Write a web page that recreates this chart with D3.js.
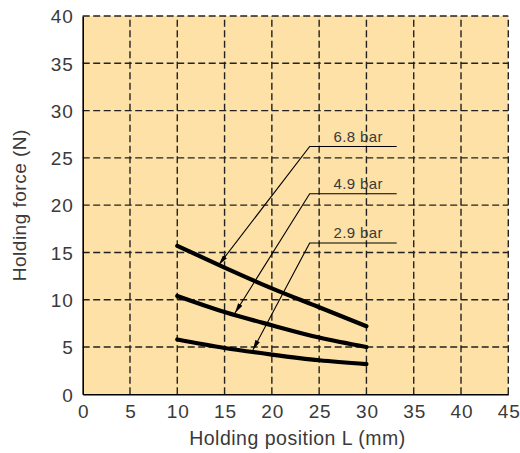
<!DOCTYPE html>
<html><head><meta charset="utf-8">
<script src="https://cdn.jsdelivr.net/npm/d3@7"></script>
<style>
html,body{margin:0;padding:0;background:#fff;}
svg text{font-family:"Liberation Sans",Arial,sans-serif;fill:#3a3a3a;}
</style></head>
<body><svg id="c" width="520" height="453"></svg>
<script>
const xTicks = [0,5,10,15,20,25,30,35,40,45];
const yTicks = [0,5,10,15,20,25,30,35,40];
const positions = [10,15,20,25,30];
const seriesNames = ["6.8 bar","4.9 bar","2.9 bar"];
const force68 = [15.7,13.4,11.2,9.2,7.2];
const force49 = [10.4,8.7,7.3,6.0,5.0];
const force29 = [5.8,4.9,4.2,3.6,3.2];
const leaderCornerX = [24.0,24.0,24.0];
const leaderEndX = [33.2,33.2,33.2];
const leaderY = [26.2,21.2,16.0];
const arrowTipX = [14.4,16.1,18.0];
const arrowTipY = [13.7,8.6,4.7];

const svg = d3.select("#c");
const W = 520, H = 453;
const m = {l:82.7, r:W-508.3, t:16, b:H-394.3};
const x = d3.scaleLinear().domain([0,45]).range([m.l, W-m.r]);
const y = d3.scaleLinear().domain([0,40]).range([H-m.b, m.t]);

svg.append("defs").append("marker")
  .attr("id","ah").attr("viewBox","0 0 10 5").attr("refX",10).attr("refY",2.5)
  .attr("markerWidth",10).attr("markerHeight",5).attr("markerUnits","userSpaceOnUse")
  .attr("orient","auto")
  .append("path").attr("d","M0,0 L10,2.5 L0,5 Z").attr("fill","#000");

svg.append("rect").attr("x",x(0)).attr("y",y(40)).attr("width",x(45)-x(0)).attr("height",y(0)-y(40)).attr("fill","#FDE1A6");

const g = svg.append("g");
g.selectAll(".vg").data(xTicks.filter(d=>d>0)).enter().append("line")
  .attr("x1",d=>x(d)).attr("x2",d=>x(d)).attr("y1",y(0)).attr("y2",y(40))
  .attr("stroke","#222").attr("stroke-width",1.4).attr("stroke-dasharray","7,3.5");
g.selectAll(".hg").data(yTicks.filter(d=>d>0)).enter().append("line")
  .attr("y1",d=>y(d)).attr("y2",d=>y(d)).attr("x1",x(0)).attr("x2",x(45))
  .attr("stroke","#222").attr("stroke-width",1.4).attr("stroke-dasharray","7,3.5");

const xa = svg.append("g").attr("transform",`translate(0,${y(0)})`)
  .call(d3.axisBottom(x).tickValues(xTicks).tickSize(0).tickPadding(10));
const ya = svg.append("g").attr("transform",`translate(${x(0)},0)`)
  .call(d3.axisLeft(y).tickValues(yTicks).tickSize(0).tickPadding(9));
[xa,ya].forEach(a=>{
  a.select(".domain").attr("stroke","#000").attr("stroke-width",1.6);
  a.selectAll("text").attr("font-size","19px").attr("fill","#444").style("font-family","'Liberation Sans',Arial,sans-serif").attr("letter-spacing","0.9px");
});
ya.selectAll("text").attr("dy","0.36em");
xa.selectAll("text").attr("dx","0.45px");

const line = d3.line().x(d=>x(d[0])).y(d=>y(d[1])).curve(d3.curveMonotoneX);
[force68,force49,force29].forEach(vals=>{
  svg.append("path").datum(positions.map((p,i)=>[p,vals[i]]))
    .attr("d",line).attr("fill","none").attr("stroke","#000")
    .attr("stroke-width",4.2).attr("stroke-linecap","round");
});

seriesNames.forEach((name,i)=>{
  svg.append("path")
    .attr("d",`M${x(leaderEndX[i])},${y(leaderY[i])} L${x(leaderCornerX[i])},${y(leaderY[i])} L${x(arrowTipX[i])},${y(arrowTipY[i])}`)
    .attr("fill","none").attr("stroke","#000").attr("stroke-width",1.1)
    .attr("marker-end","url(#ah)");
  svg.append("text").attr("x",x((leaderCornerX[i]+leaderEndX[i])/2)+5).attr("y",y(leaderY[i])-5)
    .attr("text-anchor","middle").attr("font-size","15px").attr("letter-spacing","0.4px").attr("fill","#333").text(name);
});

svg.append("text").attr("x",(x(0)+x(45))/2+2).attr("y",445).attr("text-anchor","middle")
  .attr("font-size","19.5px").attr("letter-spacing","0.5px").attr("fill","#444").text("Holding position L (mm)");
svg.append("text").attr("transform",`translate(26,${(y(0)+y(40))/2}) rotate(-90)`)
  .attr("text-anchor","middle").attr("font-size","19px").attr("letter-spacing","0.5px").attr("fill","#444").text("Holding force (N)");
</script></body></html>
